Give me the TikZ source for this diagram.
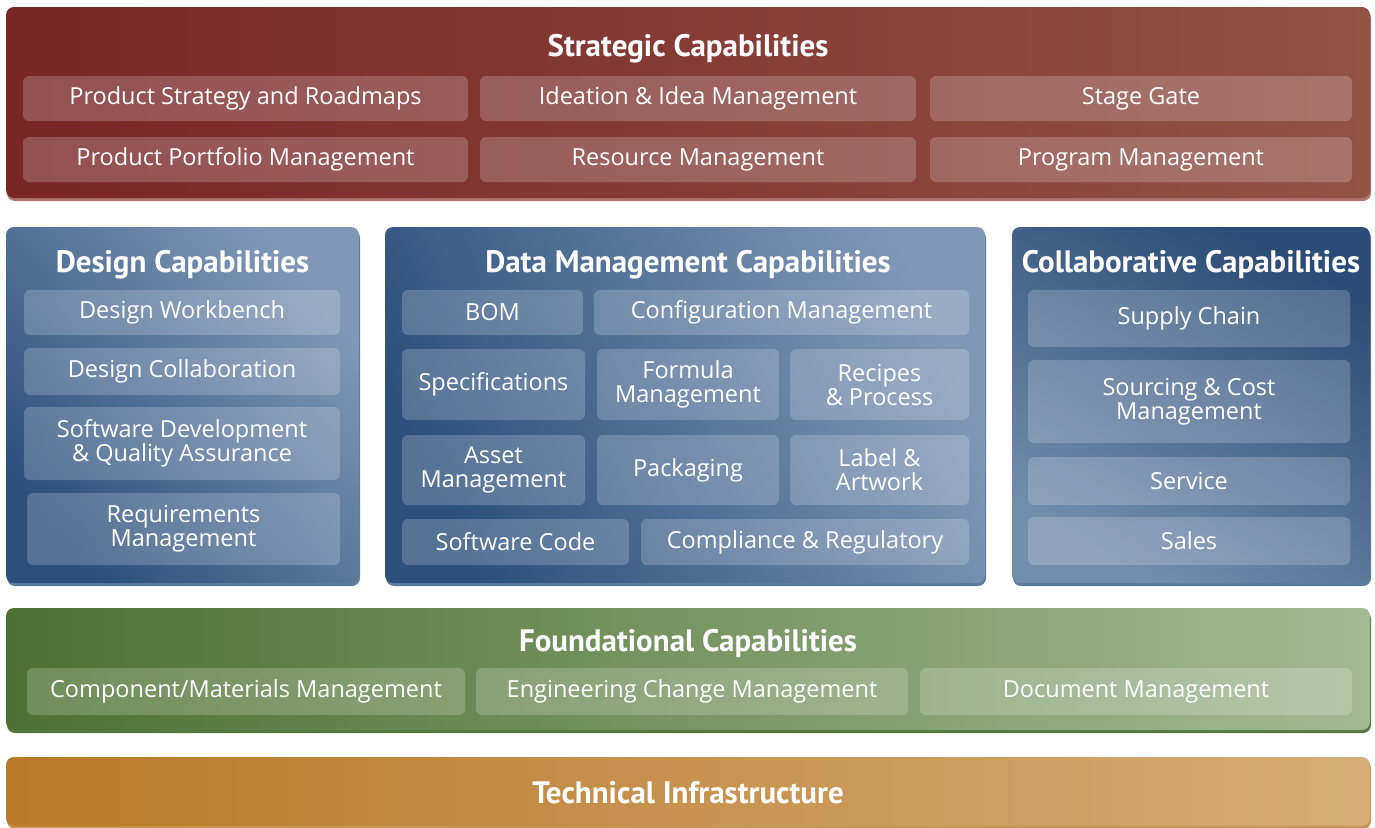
\documentclass[tikz,border=0pt]{standalone}
\usepackage{fontspec}
\setmainfont{Open Sans}
\newfontfamily\headfont{PT Sans}
\usetikzlibrary{positioning}
\definecolor{reddark}{RGB}{120,38,38}
\definecolor{redlight}{RGB}{146,82,70}
\definecolor{redshadow}{RGB}{175,115,112}
\definecolor{bluedark}{RGB}{44,80,124}
\definecolor{bluelight}{RGB}{128,152,182}
\definecolor{blueshadow}{RGB}{96,124,158}
\definecolor{greendark}{RGB}{76,113,50}
\definecolor{greenlight}{RGB}{162,186,148}
\definecolor{greenshadow}{RGB}{84,120,62}
\definecolor{orangedark}{RGB}{184,121,40}
\definecolor{orangelight}{RGB}{214,172,118}
\tikzset{
panel/.style={rounded corners=8pt, inner sep=0pt, preaction={fill=#1, transform canvas={shift={(1pt,-3pt)}}}}, % flat shadow under each layer
title/.style={text=white, anchor=base, font=\headfont\bfseries\fontsize{31}{34}\selectfont},
item/.style={rounded corners=6pt, inner sep=0pt, fill=white, fill opacity=0.2, text opacity=1, text=white, align=center, font=\fontsize{23.5}{24}\selectfont},
size/.style 2 args={minimum width=#1pt, minimum height=#2pt},
}

\begin{document}
\begin{tikzpicture}[x=1pt, y=-1pt]
        \useasboundingbox (0,0) rectangle (1375,827);
        % strategic layer
        \node[panel=redshadow, left color=reddark, right color=redlight, size={1364}{191}] (strategic) at (688,102.5) {};
        \node[title] (strategictitle) at (688,56) {Strategic Capabilities};
        \node[item, size={445}{45}] (roadmaps) at (245.5,98.5) {Product Strategy and Roadmaps};
        \node[item, size={436}{45}] (ideation) at (698,98.5) {Ideation \& Idea Management};
        \node[item, size={422}{45}] (stagegate) at (1141,98.5) {Stage Gate};
        \node[item, size={445}{45}] (portfolio) at (245.5,159.5) {Product Portfolio Management};
        \node[item, size={436}{45}] (resource) at (698,159.5) {Resource Management};
        \node[item, size={422}{45}] (program) at (1141,159.5) {Program Management};
        % design
        \node[panel=blueshadow, bottom color=bluedark, top color=bluelight, shading angle=-50, size={353}{356}] (design) at (182.5,405) {};
        \node[title] (designtitle) at (182.5,272) {Design Capabilities};
        \node[item, size={316}{45}] (workbench) at (182,312.5) {Design Workbench};
        \node[item, size={316}{47}] (designcollab) at (182,371.5) {Design Collaboration};
        \node[item, size={316}{73}] (softdev) at (182,443.5) {Software Development\\\& Quality Assurance};
        \node[item, size={313}{72}] (requirements) at (183.5,529) {Requirements\\Management};
        % data management
        \node[panel=blueshadow, bottom color=bluedark, top color=bluelight, shading angle=-65, size={600}{356}] (data) at (685,405) {};
        \node[title] (datatitle) at (688,272) {Data Management Capabilities};
        \node[item, size={181}{45}] (bom) at (492.5,312.5) {BOM};
        \node[item, size={375}{45}] (config) at (781.5,312.5) {Configuration Management};
        \node[item, size={183}{71}] (specs) at (493.5,384.5) {Specifications};
        \node[item, size={182}{71}] (formula) at (688,384.5) {Formula\\Management};
        \node[item, size={179}{71}] (recipes) at (879.5,384.5) {Recipes\\\& Process};
        \node[item, size={183}{70}] (asset) at (493.5,470) {Asset\\Management};
        \node[item, size={182}{70}] (packaging) at (688,470) {Packaging};
        \node[item, size={179}{70}] (artwork) at (879.5,470) {Label \&\\Artwork};
        \node[item, size={227}{46}] (code) at (515.5,542) {Software Code};
        \node[item, size={328}{46}] (compliance) at (805,542) {Compliance \& Regulatory};
        % collaborative
        \node[panel=blueshadow, top color=bluedark!95!black, bottom color=bluelight!85!bluedark, shading angle=-30, size={358}{356}] (collab) at (1191,405) {};
        \node[title] (collabtitle) at (1191,272) {Collaborative Capabilities};
        \node[item, size={322}{57}] (supply) at (1189,318.5) {Supply Chain};
        \node[item, size={322}{83}] (sourcing) at (1189,401.5) {Sourcing \& Cost\\Management};
        \node[item, size={322}{48}] (service) at (1189,481) {Service};
        \node[item, size={322}{48}] (sales) at (1189,541) {Sales};
        % foundational layer
        \node[panel=greenshadow, left color=greendark, right color=greenlight, size={1364}{122}] (foundational) at (688,669) {};
        \node[title] (foundationaltitle) at (688,651) {Foundational Capabilities};
        \node[item, size={438}{47}] (materials) at (246,691.5) {Component/Materials Management};
        \node[item, size={432}{47}] (change) at (692,691.5) {Engineering Change Management};
        \node[item, size={432}{47}] (document) at (1136,691.5) {Document Management};
        % technical infrastructure
        \node[panel=orangedark!80!white, left color=orangedark, right color=orangelight, size={1364}{69}] (technical) at (688,791.5) {};
        \node[title] (technicaltitle) at (688,803) {Technical Infrastructure};
\end{tikzpicture}
\end{document}
